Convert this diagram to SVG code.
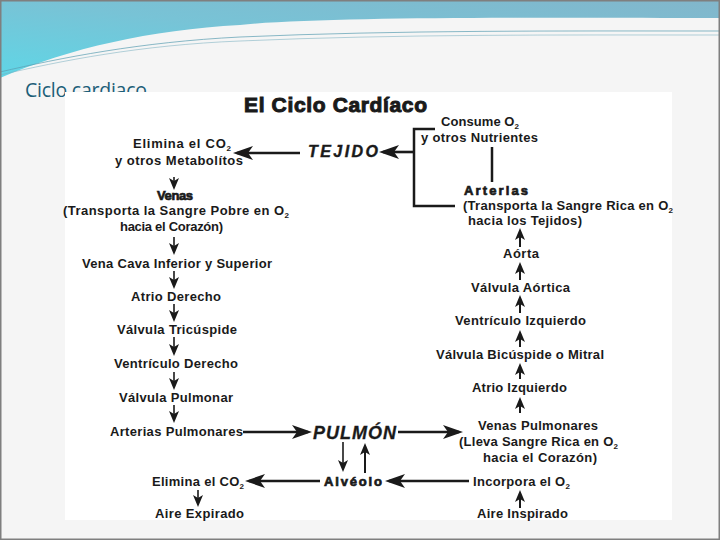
<svg xmlns="http://www.w3.org/2000/svg" width="720" height="540" viewBox="0 0 720 540">
<defs>
<linearGradient id="sw" x1="0" y1="1" x2="1" y2="0">
<stop offset="0" stop-color="#5fd6e6"/>
<stop offset="0.5" stop-color="#78c3d6"/>
<stop offset="1" stop-color="#82b6cb"/>
</linearGradient>
<marker id="as" viewBox="0 0 12 10" refX="9" refY="5" markerWidth="12" markerHeight="10" markerUnits="userSpaceOnUse" orient="auto">
<path d="M0,0 L12,5 L0,10 L3,5 Z" fill="#1a1a1a"/>
</marker>
<marker id="ab" viewBox="0 0 20 14" refX="16" refY="7" markerWidth="20" markerHeight="14" markerUnits="userSpaceOnUse" orient="auto">
<path d="M0,0 L20,7 L0,14 L5,7 Z" fill="#1a1a1a"/>
</marker>
</defs>
<style>
.t{font-family:"Liberation Sans",Arial,sans-serif;font-size:13px;font-weight:bold;fill:#1a1a1a}
.h{font-weight:900;stroke:#1a1a1a;stroke-width:0.7px}
.ttl{font-size:21px;stroke:#1a1a1a;stroke-width:1px}
.tej{font-style:italic;font-size:16px;stroke:#1a1a1a;stroke-width:0.4px}
.pul{font-style:italic;font-size:18px;stroke:#1a1a1a;stroke-width:0.3px}
.sub{font-size:8px}
.c{stroke:#1a1a1a;fill:none}
.thin{stroke-width:1.6;marker-end:url(#as)}
.up{stroke-width:2}
.thick{stroke-width:2.6;marker-end:url(#ab)}
.br{stroke-width:2.5}
</style>
<!-- slide -->
<rect x="0" y="0" width="720" height="540" fill="#f5f5f5"/>
<path d="M0,0 H720 V18 C560,18 330,16 240,25 C150,30 70,48 0,78 Z" fill="url(#sw)"/>
<path d="M0,72 C60,58 140,42 240,37 C400,30 560,31 720,31" fill="none" stroke="#5c9fb2" stroke-width="0.9" opacity="0.8"/>
<path d="M0,75 C60,61 140,45 240,41 C400,34 560,35 720,35" fill="none" stroke="#7ab0c0" stroke-width="0.8" opacity="0.7"/>
<text x="25" y="97" font-family="'Open Sans','Liberation Sans',sans-serif" font-size="19.5" fill="#1c5e78" textLength="122">Ciclo cardiaco</text>
<rect x="65" y="92" width="607" height="428" fill="#ffffff"/>
<rect x="0.75" y="0.75" width="718.5" height="538.5" fill="none" stroke="#7f7f7f" stroke-width="1.5"/>

<g id="title"><text class="t ttl" x="244" y="112" textLength="183">El Ciclo Cardíaco</text></g>

<!-- left column -->
<g id="n-elimina1">
<text class="t" x="133" y="148" textLength="98">Elimina el CO<tspan class="sub" dy="3">2</tspan></text>
<text class="t" x="115" y="165" textLength="128">y otros Metabolítos</text>
</g>
<g id="n-tejido"><text class="t tej" x="308" y="157" textLength="70">TEJIDO</text></g>
<g id="n-venas">
<text class="t h" x="157" y="200" textLength="36">Venas</text>
<text class="t" x="63" y="215" textLength="226">(Transporta la Sangre Pobre en O<tspan class="sub" dy="3">2</tspan></text>
<text class="t" x="120" y="231" textLength="103">hacia el Corazón)</text>
</g>
<g id="n-venacava"><text class="t" x="82" y="268" textLength="190">Vena Cava Inferior y Superior</text></g>
<g id="n-atriod"><text class="t" x="131" y="301" textLength="90">Atrio Derecho</text></g>
<g id="n-tricuspide"><text class="t" x="117" y="334" textLength="120">Válvula Tricúspide</text></g>
<g id="n-ventd"><text class="t" x="114" y="368" textLength="124">Ventrículo Derecho</text></g>
<g id="n-vpulmonar"><text class="t" x="119" y="402" textLength="114">Válvula Pulmonar</text></g>
<g id="n-artpulm"><text class="t" x="110" y="436" textLength="133">Arterias Pulmonares</text></g>
<g id="n-pulmon"><text class="t pul" x="313" y="439" textLength="83">PULMÓN</text></g>
<g id="n-alveolo"><text class="t h" x="324" y="486" textLength="58">Alvéolo</text></g>
<g id="n-elimina2"><text class="t" x="152" y="486" textLength="92">Elimina el CO<tspan class="sub" dy="3">2</tspan></text></g>
<g id="n-expirado"><text class="t" x="155" y="518" textLength="89">Aire Expirado</text></g>

<!-- right column -->
<g id="n-consume">
<text class="t" x="441" y="126" textLength="78">Consume O<tspan class="sub" dy="3">2</tspan></text>
<text class="t" x="421" y="142" textLength="117">y otros Nutrientes</text>
</g>
<g id="n-arterias">
<text class="t h" x="464" y="195" textLength="64">Arterias</text>
<text class="t" x="463" y="210" textLength="210">(Transporta la Sangre Rica en O<tspan class="sub" dy="3">2</tspan></text>
<text class="t" x="468" y="225" textLength="114">hacia los Tejidos)</text>
</g>
<g id="n-aorta"><text class="t" x="503" y="258" textLength="36">Aórta</text></g>
<g id="n-vaortica"><text class="t" x="471" y="292" textLength="99">Válvula Aórtica</text></g>
<g id="n-venti"><text class="t" x="455" y="325" textLength="131">Ventrículo Izquierdo</text></g>
<g id="n-mitral"><text class="t" x="436" y="359" textLength="168">Válvula Bicúspide o Mitral</text></g>
<g id="n-atrioi"><text class="t" x="472" y="392" textLength="95">Atrio Izquierdo</text></g>
<g id="n-venaspulm">
<text class="t" x="478" y="430" textLength="120">Venas Pulmonares</text>
<text class="t" x="459" y="446" textLength="159">(Lleva Sangre Rica en O<tspan class="sub" dy="3">2</tspan></text>
<text class="t" x="483" y="462" textLength="114">hacia el Corazón)</text>
</g>
<g id="n-incorpora"><text class="t" x="473" y="486" textLength="97">Incorpora el O<tspan class="sub" dy="3">2</tspan></text></g>
<g id="n-inspirado"><text class="t" x="477" y="518" textLength="91">Aire Inspirado</text></g>

<g id="connectors">
<path class="c br" d="M435,129 H414 V206 H455"/>
<path class="c br" d="M492,147 V182"/>
<line class="c thick" x1="414" y1="152" x2="383" y2="152"/>
<line class="c thick" x1="300" y1="153" x2="237" y2="153"/>
<line class="c thin" x1="174" y1="177" x2="174" y2="187"/>
<line class="c thin" x1="174" y1="237" x2="174" y2="252"/>
<line class="c thin" x1="174" y1="271" x2="174" y2="286"/>
<line class="c thin" x1="174" y1="304" x2="174" y2="319"/>
<line class="c thin" x1="174" y1="337" x2="174" y2="353"/>
<line class="c thin" x1="174" y1="372" x2="174" y2="387"/>
<line class="c thin" x1="174" y1="405" x2="174" y2="420"/>
<line class="c thin" x1="198" y1="490" x2="198" y2="504"/>
<line class="c thin up" x1="520" y1="247" x2="520" y2="231"/>
<line class="c thin up" x1="520" y1="280" x2="520" y2="265"/>
<line class="c thin up" x1="520" y1="313" x2="520" y2="298"/>
<line class="c thin up" x1="520" y1="347" x2="520" y2="333"/>
<line class="c thin up" x1="520" y1="379" x2="520" y2="366"/>
<line class="c thin up" x1="520" y1="413" x2="520" y2="400"/>
<line class="c thin up" x1="520" y1="508" x2="520" y2="493"/>
<line class="c thin" x1="343" y1="442" x2="343" y2="469"/>
<line class="c thin up" x1="365" y1="473" x2="365" y2="446"/>
<line class="c thick" x1="243" y1="432" x2="308" y2="432"/>
<line class="c thick" x1="398" y1="432" x2="459" y2="432"/>
<line class="c thick" x1="320" y1="481" x2="249" y2="481"/>
<line class="c thick" x1="469" y1="481" x2="389" y2="481"/>
</g>
</svg>
